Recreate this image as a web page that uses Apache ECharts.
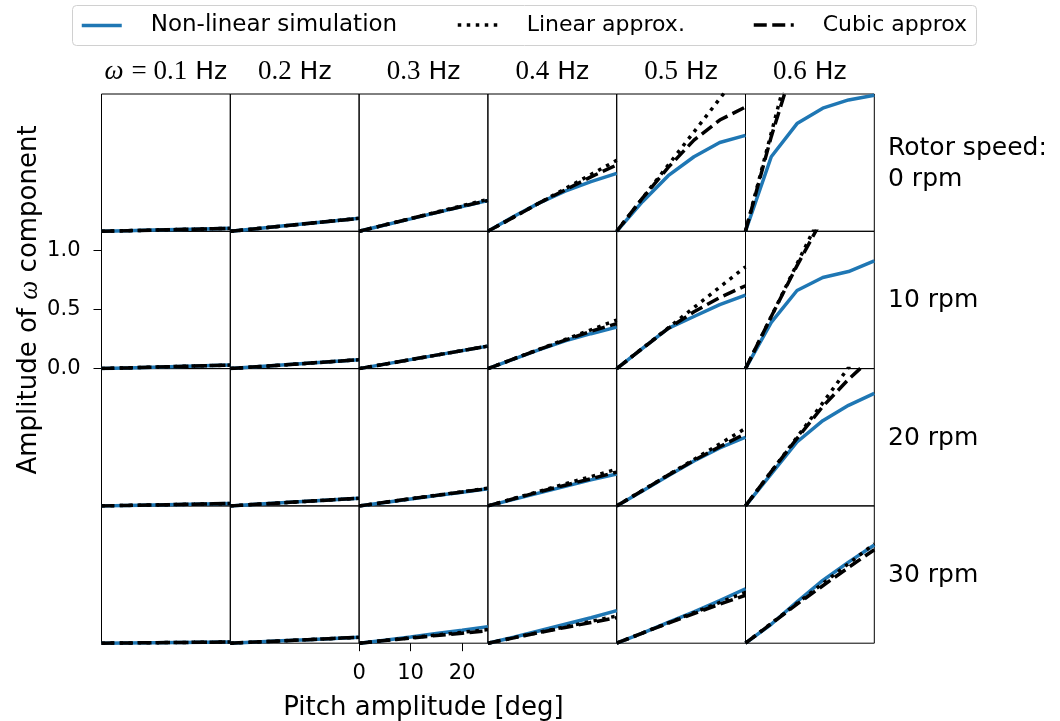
<!DOCTYPE html>
<html>
<head>
<meta charset="utf-8">
<script src="https://cdn.jsdelivr.net/npm/echarts@6/dist/echarts.min.js"></script>
<style>
html, body { margin: 0; padding: 0; background: #fff; }
#chart { width: 1060px; height: 721px; }
</style>
</head>
<body>
<div id="chart"></div>
<script>
const pitchDeg = [0, 5, 10, 15, 20, 25];
const freqs = ['0.1', '0.2', '0.3', '0.4', '0.5', '0.6'];
const rotorSpeeds = ['0 rpm', '10 rpm', '20 rpm', '30 rpm'];
const seriesNames = ['Non-linear simulation', 'Linear approx.', 'Cubic approx'];
const yTicks = [0, 0.5, 1.0];
const xTicks = [0, 10, 20];

// amplitudes, one list per frequency (0.1 ... 0.6 Hz)
const nonlin0rpm = [
    [0, 0.005, 0.01, 0.015, 0.02, 0.025],
    [0, 0.022, 0.044, 0.066, 0.088, 0.11],
    [0, 0.053, 0.105, 0.158, 0.21, 0.26],
    [0, 0.125, 0.24, 0.34, 0.42, 0.49],
    [0, 0.25, 0.47, 0.63, 0.75, 0.81],
    [0, 0.63, 0.91, 1.04, 1.11, 1.15]
];
const linear0rpm = [
    [0, 0.005, 0.01, 0.015, 0.02, 0.025],
    [0, 0.022, 0.044, 0.066, 0.088, 0.11],
    [0, 0.054, 0.108, 0.162, 0.216, 0.27],
    [0, 0.12, 0.24, 0.36, 0.48, 0.60],
    [0, 0.28, 0.56, 0.84, 1.12, 1.40],
    [0, 0.83, 1.66, 2.49, 3.32, 4.15]
];
const cubic0rpm = [
    [0, 0.005, 0.01, 0.015, 0.02, 0.025],
    [0, 0.022, 0.044, 0.066, 0.088, 0.109],
    [0, 0.054, 0.107, 0.159, 0.21, 0.26],
    [0, 0.12, 0.24, 0.35, 0.46, 0.56],
    [0, 0.28, 0.54, 0.77, 0.94, 1.05],
    [0, 0.80, 1.50, 2.00, 2.30, 2.40]
];

const nonlin10rpm = [
    [0, 0.006, 0.012, 0.018, 0.024, 0.03],
    [0, 0.015, 0.03, 0.045, 0.06, 0.075],
    [0, 0.038, 0.076, 0.114, 0.152, 0.19],
    [0, 0.08, 0.16, 0.235, 0.295, 0.35],
    [0, 0.17, 0.34, 0.44, 0.54, 0.62],
    [0, 0.39, 0.66, 0.77, 0.82, 0.91]
];
const linear10rpm = [
    [0, 0.006, 0.012, 0.018, 0.024, 0.03],
    [0, 0.015, 0.03, 0.045, 0.06, 0.075],
    [0, 0.038, 0.076, 0.114, 0.152, 0.19],
    [0, 0.082, 0.164, 0.246, 0.328, 0.41],
    [0, 0.172, 0.344, 0.516, 0.688, 0.86],
    [0, 0.44, 0.885, 1.33, 1.77, 2.21]
];
const cubic10rpm = [
    [0, 0.006, 0.012, 0.018, 0.024, 0.03],
    [0, 0.015, 0.03, 0.045, 0.06, 0.075],
    [0, 0.038, 0.076, 0.114, 0.152, 0.19],
    [0, 0.082, 0.163, 0.24, 0.315, 0.38],
    [0, 0.17, 0.34, 0.48, 0.60, 0.70],
    [0, 0.44, 0.87, 1.27, 1.62, 1.90]
];

const nonlin20rpm = [
    [0, 0.004, 0.008, 0.012, 0.016, 0.02],
    [0, 0.013, 0.026, 0.039, 0.052, 0.065],
    [0, 0.029, 0.058, 0.087, 0.116, 0.145],
    [0, 0.055, 0.11, 0.165, 0.22, 0.27],
    [0, 0.125, 0.255, 0.38, 0.49, 0.58],
    [0, 0.27, 0.54, 0.72, 0.85, 0.95]
];
const linear20rpm = [
    [0, 0.004, 0.008, 0.012, 0.016, 0.02],
    [0, 0.013, 0.026, 0.039, 0.052, 0.065],
    [0, 0.03, 0.06, 0.09, 0.12, 0.15],
    [0, 0.062, 0.124, 0.186, 0.248, 0.31],
    [0, 0.131, 0.262, 0.393, 0.524, 0.655],
    [0, 0.29, 0.58, 0.87, 1.17, 1.46]
];
const cubic20rpm = [
    [0, 0.004, 0.008, 0.012, 0.016, 0.02],
    [0, 0.013, 0.026, 0.039, 0.052, 0.065],
    [0, 0.03, 0.06, 0.089, 0.118, 0.146],
    [0, 0.06, 0.12, 0.175, 0.23, 0.285],
    [0, 0.13, 0.26, 0.385, 0.50, 0.61],
    [0, 0.29, 0.57, 0.84, 1.07, 1.27]
];

const nonlin30rpm = [
    [0, 0.002, 0.004, 0.006, 0.008, 0.01],
    [0, 0.01, 0.02, 0.03, 0.04, 0.05],
    [0, 0.025, 0.053, 0.082, 0.11, 0.14],
    [0, 0.05, 0.105, 0.16, 0.215, 0.275],
    [0, 0.085, 0.175, 0.265, 0.36, 0.46],
    [0, 0.16, 0.35, 0.53, 0.685, 0.83]
];
const linear30rpm = [
    [0, 0.002, 0.004, 0.006, 0.008, 0.01],
    [0, 0.01, 0.02, 0.03, 0.04, 0.05],
    [0, 0.023, 0.046, 0.069, 0.092, 0.115],
    [0, 0.046, 0.092, 0.138, 0.184, 0.23],
    [0, 0.086, 0.172, 0.258, 0.344, 0.43],
    [0, 0.168, 0.336, 0.504, 0.672, 0.84]
];
const cubic30rpm = [
    [0, 0.002, 0.004, 0.006, 0.008, 0.01],
    [0, 0.01, 0.02, 0.03, 0.04, 0.05],
    [0, 0.022, 0.044, 0.065, 0.085, 0.105],
    [0, 0.045, 0.09, 0.133, 0.175, 0.215],
    [0, 0.085, 0.17, 0.25, 0.33, 0.405],
    [0, 0.165, 0.33, 0.485, 0.64, 0.79]
];

const nonlinRows = [nonlin0rpm, nonlin10rpm, nonlin20rpm, nonlin30rpm];
const linearRows = [linear0rpm, linear10rpm, linear20rpm, linear30rpm];
const cubicRows = [cubic0rpm, cubic10rpm, cubic20rpm, cubic30rpm];

// panel geometry
const left0 = 101.5, colW = 128.8, top0 = 94, rowH = 137.3;
const sans = 'DejaVu Sans';
const LW = 3.5;
const dotted = [3.5, 5.5], dashed = [13, 5.5];

const grids = [], xAxes = [], yAxes = [], series = [];

rotorSpeeds.forEach((rpm, r) => {
    freqs.forEach((f, c) => {
        const i = r * freqs.length + c;
        const showX = r === 3 && c === 2;
        const showY = r === 1 && c === 0;
        grids.push({
            left: left0 + c * colW, top: top0 + r * rowH,
            width: colW, height: rowH,
            show: true, borderColor: '#000', borderWidth: 1,
            backgroundColor: 'transparent', outerBoundsMode: 'none'
        });
        xAxes.push({
            type: 'value', gridIndex: i, min: 0, max: 25,
            axisLine: { show: false }, splitLine: { show: false },
            axisTick: { show: showX, length: 8, customValues: xTicks, lineStyle: { color: '#000', width: 1 } },
            axisLabel: { show: showX, customValues: xTicks, margin: 20, fontSize: 21, fontFamily: sans, color: '#000' },
            name: showX ? 'Pitch amplitude [deg]' : '',
            nameLocation: 'middle', nameGap: 52,
            nameTextStyle: { fontSize: 26, fontFamily: sans, color: '#000' }
        });
        yAxes.push({
            type: 'value', gridIndex: i, min: 0, max: 1.16,
            axisLine: { show: false }, splitLine: { show: false },
            axisTick: { show: showY, length: 8, customValues: yTicks, lineStyle: { color: '#000', width: 1 } },
            axisLabel: {
                show: showY, customValues: yTicks, margin: 21, fontSize: 21, fontFamily: sans, color: '#000',
                formatter: v => v.toFixed(1)
            },
            name: showY ? 'Amplitude of {w|ω} component' : '',
            nameLocation: 'middle', nameGap: 58, nameRotate: 90,
            nameTextStyle: {
                fontSize: 26, fontFamily: sans, color: '#000',
                rich: { w: { fontSize: 27, fontFamily: 'Liberation Serif', fontStyle: 'italic', color: '#000' } }
            }
        });
        const pts = vals => pitchDeg.map((x, k) => [x, vals[k]]);
        series.push({
            name: seriesNames[0], type: 'line', xAxisIndex: i, yAxisIndex: i,
            data: pts(nonlinRows[r][c]), symbol: 'none', clip: true, z: 2,
            itemStyle: { color: '#1f77b4' },
            lineStyle: { color: '#1f77b4', width: LW }
        });
        series.push({
            name: seriesNames[1], type: 'line', xAxisIndex: i, yAxisIndex: i,
            data: pts(linearRows[r][c]), symbol: 'none', clip: true, z: 3,
            itemStyle: { color: '#000' },
            lineStyle: { color: '#000', width: LW, type: dotted }
        });
        series.push({
            name: seriesNames[2], type: 'line', xAxisIndex: i, yAxisIndex: i,
            data: pts(cubicRows[r][c]), symbol: 'none', clip: true, z: 4,
            itemStyle: { color: '#000' },
            lineStyle: { color: '#000', width: LW, type: dashed }
        });
    });
});

// legend frame + column / row labels
const graphics = [{
    type: 'rect', z: -1,
    shape: { x: 72.5, y: 5.5, width: 904, height: 40, r: 4 },
    style: { fill: '#fff', stroke: '#d0d0d0', lineWidth: 1 }
}];
freqs.forEach((f, c) => {
    graphics.push({
        type: 'text', x: left0 + c * colW + colW / 2, y: 72,
        style: {
            text: c === 0 ? '{i|ω} {m|= ' + f + '} Hz' : '{m|' + f + '} Hz',
            fontSize: 25, fontFamily: sans, fill: '#000',
            align: 'center', verticalAlign: 'middle',
            rich: {
                m: { fontSize: 27, fontFamily: 'Liberation Serif', fill: '#000' },
                i: { fontSize: 27, fontFamily: 'Liberation Serif', fontStyle: 'italic', fill: '#000' }
            }
        }
    });
});
rotorSpeeds.forEach((rpm, r) => {
    graphics.push({
        type: 'text', x: 888, y: top0 + r * rowH + rowH / 2 + 1,
        style: {
            text: r === 0 ? 'Rotor speed:\n' + rpm : rpm,
            fontSize: 25, fontFamily: sans, fill: '#000', lineHeight: 31,
            align: 'left', verticalAlign: 'middle'
        }
    });
});

// one legend per entry so each sits where the reference puts it
const legendLefts = [80, 456, 752];
const legendDash = ['solid', dotted, dashed];
const legends = seriesNames.map((name, k) => ({
    data: [name], left: legendLefts[k], top: 14, padding: 0,
    itemWidth: 40, itemHeight: 14,
    itemStyle: { color: 'rgba(0,0,0,0)', borderWidth: 0, opacity: 0 },
    lineStyle: { width: LW, type: legendDash[k] },
    textStyle: { fontSize: k === 0 ? 23 : 22, fontFamily: sans, color: '#000', padding: [0, 0, 0, 24] }
}));

const chart = echarts.init(document.getElementById('chart'), null, { renderer: 'canvas' });
chart.setOption({
    animation: false,
    backgroundColor: '#fff',
    legend: legends,
    grid: grids,
    xAxis: xAxes,
    yAxis: yAxes,
    series: series,
    graphic: graphics
});

window.addEventListener('resize', () => {
    chart.resize();
});
</script>
</body>
</html>
